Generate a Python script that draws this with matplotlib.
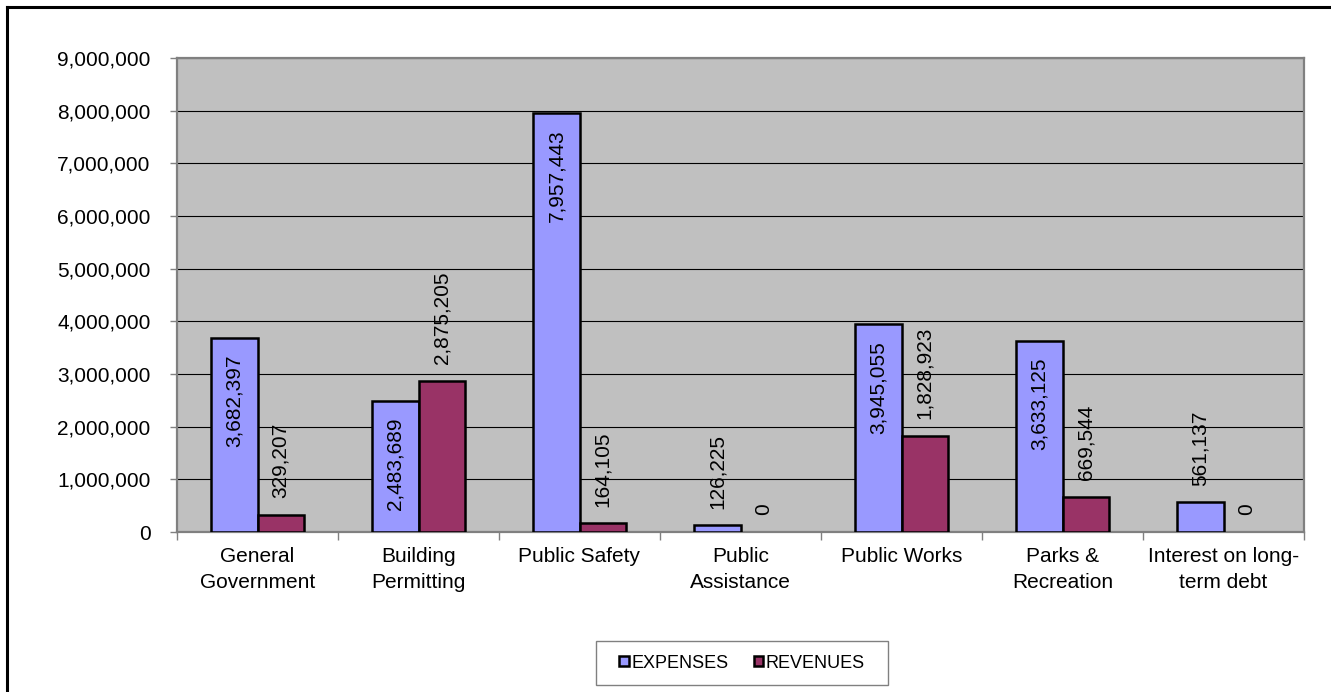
import numpy as np
import matplotlib.pyplot as plt
from matplotlib.patches import Patch, Rectangle
from matplotlib.lines import Line2D

plt.rcParams['font.family'] = ['Liberation Sans', 'DejaVu Sans']

categories = ['General\nGovernment', 'Building\nPermitting', 'Public Safety',
              'Public\nAssistance', 'Public Works', 'Parks &\nRecreation',
              'Interest on long-\nterm debt']
expenses = [3682397, 2483689, 7957443, 126225, 3945055, 3633125, 561137]
revenues = [329207, 2875205, 164105, 0, 1828923, 669544, 0]
yticks = np.arange(0, 9000001, 1000000)

W, H = 1331, 692
fig = plt.figure(figsize=(W / 100, H / 100), dpi=100)
ax = fig.add_axes([177 / W, (H - 532) / H, (1304 - 177) / W, (532 - 58) / H])
ax.set_facecolor('#c0c0c0')

x = np.arange(len(categories))
bw = 0.286
b1 = ax.bar(x - bw / 2, expenses, bw, color='#9999ff', edgecolor='black', linewidth=1.8, zorder=3)
b2 = ax.bar(x + bw / 2, revenues, bw, color='#993366', edgecolor='black', linewidth=1.8, zorder=3)

# value labels, big expense bars get them inside
for bars, vals, inside_ok in ((b1, expenses, True), (b2, revenues, False)):
    for rect, v in zip(bars, vals):
        if v == 0:
            rect.set_linewidth(0)
        cx = rect.get_x() + rect.get_width() / 2
        inside = inside_ok and v > 1000000
        ax.annotate(f'{v:,}', (cx, v), xytext=(0, -12 if inside else 12),
                    textcoords='offset points', rotation=90, ha='center',
                    va='top' if inside else 'bottom', fontsize=15, zorder=4)

ax.set_ylim(0, 9000000)
ax.set_xlim(-0.5, len(categories) - 0.5)
ax.set_yticks(yticks)
ax.set_yticklabels([f'{v:,}' for v in yticks], fontsize=15)
ax.tick_params(axis='y', length=5, width=1, color='#808080', pad=14)
ax.set_xticks(x)
ax.set_xticklabels(categories, fontsize=15, linespacing=1.45)
ax.set_xticks(np.arange(len(categories) + 1) - 0.5, minor=True)
ax.tick_params(axis='x', which='major', length=0, pad=11)
ax.tick_params(axis='x', which='minor', length=6, width=1, color='#808080')
ax.grid(axis='y', color='black', linewidth=0.8, zorder=1)
ax.set_axisbelow(True)
for s in ax.spines.values():
    s.set_color('#808080')
    s.set_linewidth(1.6)

handles = [Patch(facecolor='#9999ff', edgecolor='black', linewidth=1.8, label='EXPENSES'),
           Patch(facecolor='#993366', edgecolor='black', linewidth=1.8, label='REVENUES')]
leg = fig.legend(handles=handles, loc='center', bbox_to_anchor=(742 / W, (H - 663) / H),
                 ncol=2, fontsize=13, frameon=False,
                 handlelength=0.5, handleheight=0.5, handletextpad=0.15,
                 columnspacing=1.4)
fig.add_artist(Rectangle((596 / W, (H - 685) / H), (888 - 596) / W, 44 / H,
                         transform=fig.transFigure, facecolor='none',
                         edgecolor='#808080', linewidth=1))

# outer chart border (only top and left edges are visible)
fig.add_artist(Line2D([7 / W, 7 / W], [0, (H - 7) / H], color='black', linewidth=2.2))
fig.add_artist(Line2D([7 / W, 1], [(H - 7) / H, (H - 7) / H], color='black', linewidth=2.2))

fig.savefig('out.png', dpi=100)
